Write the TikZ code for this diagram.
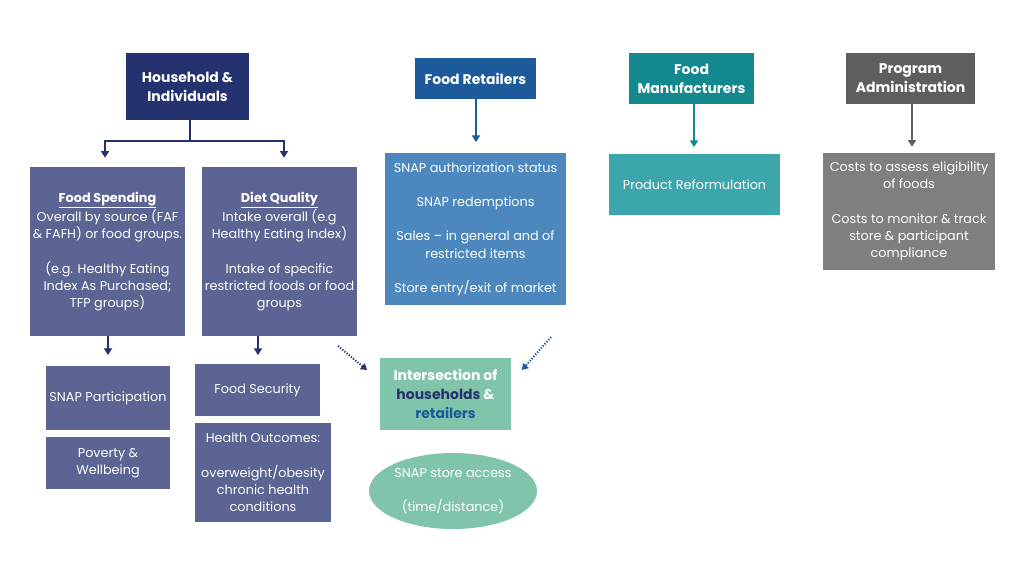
\documentclass[tikz,border=0pt]{standalone}
\usepackage{fontspec}
\setmainfont{Poppins}
\usetikzlibrary{arrows.meta,shapes.geometric}
\definecolor{navy}{HTML}{24336F}
\definecolor{slate}{HTML}{5B6493}
\definecolor{retH}{HTML}{1C5A9A}
\definecolor{retB}{HTML}{4C87BD}
\definecolor{mint}{HTML}{80C4A9}
\definecolor{tealH}{HTML}{13898F}
\definecolor{tealB}{HTML}{3DA6AD}
\definecolor{greyH}{HTML}{5E5E60}
\definecolor{greyB}{HTML}{7F7F7F}
\begin{document}
\begin{tikzpicture}[x=0.75pt,y=-0.75pt,
  box/.style={rectangle, inner sep=1pt, align=center, text=white,
    font=\fontsize{9.6}{12.9}\selectfont},
  hdr/.style={box, font=\bfseries\fontsize{10.5}{14.25}\selectfont},
  arr/.style={line width=1.5pt, -{Triangle[length=5pt,width=6pt]}},
  link/.style={line width=1.5pt},
  dots/.style={line width=1.5pt, dash pattern=on 0.9pt off 1.2pt, -{Triangle[length=4.5pt,width=5.5pt]}}
]
\useasboundingbox (0,0) rectangle (1024,576);
\fill[white] (0,0) rectangle (1024,576);

% Households
\node[hdr, fill=navy, minimum width=92.25pt, minimum height=50.25pt] (hh) at (187.5,86.5) {Household \&\\Individuals};
\node[box, fill=slate, minimum width=116.25pt, minimum height=126.75pt] (fs) at (107.5,251.5)
  {\textbf{\underline{Food Spending}}\\Overall by source (FAF\\\& FAFH) or food groups.\\[12.9pt](e.g. Healthy Eating\\Index As Purchased;\\TFP groups)};
\node[box, fill=slate, minimum width=116.25pt, minimum height=126.75pt] (dq) at (279.5,251.5)
  {\textbf{\underline{Diet Quality}}\\Intake overall (e.g\\Healthy Eating Index)\\[12.9pt]Intake of specific\\restricted foods or food\\groups};
\node[box, fill=slate, minimum width=93pt, minimum height=48pt] (snap) at (108,398) {SNAP Participation};
\node[box, fill=slate, minimum width=93pt, minimum height=39pt] (pov) at (108,463) {Poverty \&\\Wellbeing};
\node[box, fill=slate, minimum width=93.75pt, minimum height=39pt] (fsec) at (257.5,390) {Food Security};
\node[box, fill=slate, minimum width=102pt, minimum height=74.25pt] (health) at (263,472.5)
  {Health Outcomes:\\[12.9pt]overweight/obesity\\chronic health\\conditions};

% Retailers
\node[hdr, fill=retH, minimum width=90.75pt, minimum height=30.75pt] (fr) at (475.5,78.5) {Food Retailers};
\node[box, fill=retB, minimum width=135.75pt, minimum height=114pt] (rb) at (475.5,229)
  {SNAP authorization status\\[12.9pt]SNAP redemptions\\[12.9pt]Sales -- in general and of\\restricted items\\[12.9pt]Store entry/exit of market};

% Intersection
\node[hdr, fill=mint, minimum width=98.25pt, minimum height=54pt] (inter) at (445.5,394)
  {Intersection of\\\textcolor{navy}{households} \&\\\textcolor{retH}{retailers}};
\node[box, ellipse, fill=mint, minimum width=126pt, minimum height=57pt, inner sep=0pt] (acc) at (453,491)
  {SNAP store access\\[12.9pt](time/distance)};

% Manufacturers
\node[hdr, fill=tealH, minimum width=93.75pt, minimum height=38.25pt] (fm) at (691.5,78.5) {Food\\Manufacturers};
\node[box, fill=tealB, minimum width=128.25pt, minimum height=45.75pt] (pr) at (694.5,184.5) {Product Reformulation};

% Program administration
\node[hdr, fill=greyH, minimum width=96.75pt, minimum height=38.25pt] (pa) at (910.5,78.5) {Program\\Administration};
\node[box, fill=greyB, minimum width=129pt, minimum height=87.75pt] (ad) at (909,211.5)
  {Costs to assess eligibility\\of foods\\[12.9pt]Costs to monitor \& track\\store \& participant\\compliance};

% connectors
\coordinate (j) at (190,141);
\coordinate (jl) at (105,141);
\coordinate (jr) at (284,141);
\draw[link, navy] (hh.south -| j) -- (j);
\draw[link, navy] ([xshift=-0.75pt]jl) -- ([xshift=0.75pt]jr);
\draw[arr, navy, shorten >=6.75pt] (jl) -- (jl |- fs.north);
\draw[arr, navy, shorten >=6.75pt] (jr) -- (jr |- dq.north);
\coordinate (a1) at (108,336);
\coordinate (a2) at (258,336);
\draw[arr, navy, shorten >=8pt] (fs.south -| a1) -- (a1 |- snap.north);
\draw[arr, navy, shorten >=6.5pt] (dq.south -| a2) -- (a2 |- fsec.north);
\coordinate (a3) at (476,99);
\draw[arr, retH, shorten >=8pt] (fr.south -| a3) -- (a3 |- rb.north);
\coordinate (a4) at (694,104);
\draw[arr, tealH, shorten >=5pt] (fm.south -| a4) -- (a4 |- pr.north);
\coordinate (a5) at (912,104);
\draw[arr, greyH, shorten >=4.5pt] (pa.south -| a5) -- (a5 |- ad.north);

\coordinate (d1s) at (338,346);
\coordinate (d1e) at (367,370);
\coordinate (d2s) at (551,337);
\coordinate (d2e) at (522,370);
\draw[dots, navy] (d1s) -- (d1e);
\draw[dots, retH] (d2s) -- (d2e);
\end{tikzpicture}
\end{document}
